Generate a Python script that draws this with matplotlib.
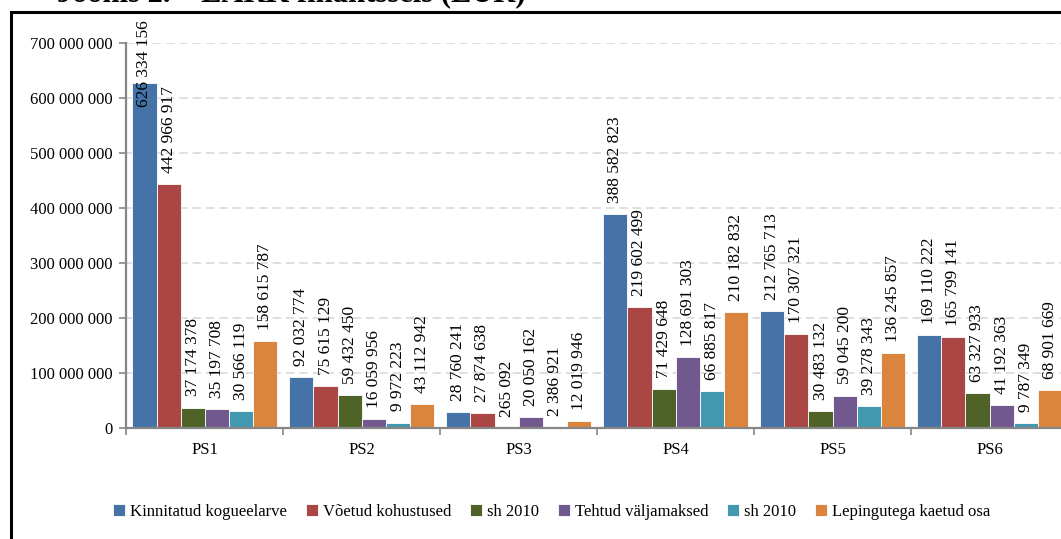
import matplotlib
matplotlib.use("Agg")
import matplotlib.pyplot as plt
import numpy as np
from matplotlib.patches import Rectangle

# andmed
categories = ["PS1", "PS2", "PS3", "PS4", "PS5", "PS6"]
series_names = [
    "Kinnitatud kogueelarve",
    "Võetud kohustused",
    "sh 2010",
    "Tehtud väljamaksed",
    "sh 2010",
    "Lepingutega kaetud osa",
]
kinnitatud = [626334156, 92032774, 28760241, 388582823, 212765713, 169110222]
voetud = [442966917, 75615129, 27874638, 219602499, 170307321, 165799141]
sh2010_a = [37174378, 59432450, 265092, 71429648, 30483132, 63327933]
tehtud = [35197708, 16059956, 20050162, 128691303, 59045200, 41192363]
sh2010_b = [30566119, 9972223, 2386921, 66885817, 39278343, 9787349]
lepingud = [158615787, 43112942, 12019946, 210182832, 136245857, 68901669]
y_ticks = [0, 100e6, 200e6, 300e6, 400e6, 500e6, 600e6, 700e6]

colors = ["#4572A7", "#AA4643", "#4F6228", "#71588F", "#4198AF", "#DB843D"]
series = [kinnitatud, voetud, sh2010_a, tehtud, sh2010_b, lepingud]

plt.rcParams["font.family"] = ["Liberation Serif", "DejaVu Serif"]


def fmt(v):
    return f"{int(v):,}".replace(",", " ")


fig = plt.figure(figsize=(10.61, 5.39), dpi=100)
ax = fig.add_axes([0.1188, 0.2059, 0.8878, 0.7149])

n = len(series)
bw = 0.153
x = np.arange(len(categories))
for i, (vals, name, c) in enumerate(zip(series, series_names, colors)):
    pos = x + (i - (n - 1) / 2) * bw
    ax.bar(pos, vals, width=bw, color=c, edgecolor="white", linewidth=0.6,
           label=name, zorder=3)
    for px, v in zip(pos, vals):
        # PS1 esimene silt ei mahu üles, nihutatakse alla nagu Excelis
        ax.annotate(fmt(v), (px, min(v, 563e6)), xytext=(0, 8),
                    textcoords="offset points", rotation=90,
                    ha="center", va="bottom", fontsize=12.5,
                    annotation_clip=False, zorder=4)

ax.set_xlim(-0.5, len(categories) - 0.5)
ax.set_ylim(0, 700e6)
ax.set_yticks(y_ticks)
ax.set_yticklabels([fmt(t) for t in y_ticks], fontsize=12)
ax.set_xticks(x)
ax.set_xticklabels(categories, fontsize=12)
ax.set_xticks(np.arange(len(categories) + 1) - 0.5, minor=True)
ax.tick_params(axis="x", which="major", length=0, pad=10)
ax.tick_params(axis="x", which="minor", length=5, color="#868686", width=1.2)
ax.tick_params(axis="y", length=5, color="#868686", width=1.2, pad=5)

ax.yaxis.grid(True, color="#d9d9d9", linestyle=(0, (5, 3)), linewidth=1.2, zorder=0)
for s in ["top", "right"]:
    ax.spines[s].set_visible(False)
for s in ["left", "bottom"]:
    ax.spines[s].set_color("#868686")
    ax.spines[s].set_linewidth(1.6)
    ax.spines[s].set_zorder(5)

fig.legend(loc="center", bbox_to_anchor=(0.52, 0.05), ncol=6, frameon=False,
           fontsize=12, handlelength=0.7, handleheight=0.7, handletextpad=0.3,
           columnspacing=1.15)

# raam
fig.patches.append(Rectangle((11 / 1061, -0.1), 1.2, 1 - 12 / 539 + 0.1,
                             transform=fig.transFigure, fill=False,
                             edgecolor="black", linewidth=2.2))

fig.text(57 / 1061, 1 - 1 / 539, "Joonis 2.    EARK finantsseis (EUR)", fontsize=22,
         fontweight="bold", ha="left", va="baseline")

fig.savefig("out.png", dpi=100)
